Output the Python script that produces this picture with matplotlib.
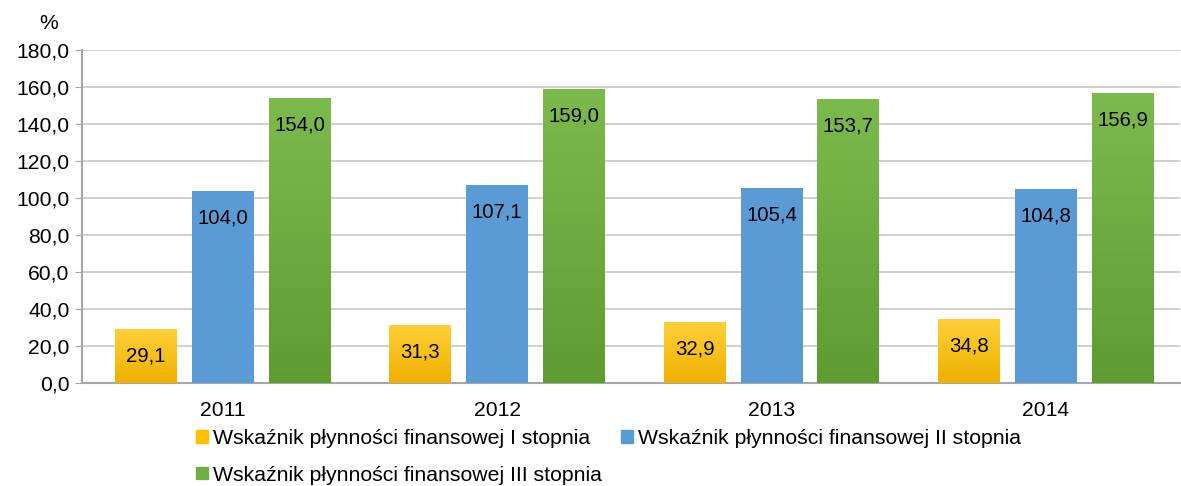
import matplotlib
matplotlib.use("Agg")
import matplotlib.pyplot as plt
import numpy as np
from matplotlib.colors import LinearSegmentedColormap
from matplotlib.patches import Rectangle

years = ["2011", "2012", "2013", "2014"]
series_names = [
    "Wskaźnik płynności finansowej I stopnia",
    "Wskaźnik płynności finansowej II stopnia",
    "Wskaźnik płynności finansowej III stopnia",
]
stopien_I = [29.1, 31.3, 32.9, 34.8]
stopien_II = [104.0, 107.1, 105.4, 104.8]
stopien_III = [154.0, 159.0, 153.7, 156.9]
series = [stopien_I, stopien_II, stopien_III]

# top colour, bottom colour, legend colour
grad = [("#FFCF3A", "#EFB100", "#FFC000"),
        ("#5B9BD5", "#5B9BD5", "#5B9BD5"),
        ("#7DBA4E", "#5E9C32", "#70AD47")]

plt.rcParams['font.family'] = ['Liberation Sans', 'DejaVu Sans']

fig = plt.figure(figsize=(11.81, 4.86), dpi=100)
ax = fig.add_axes([0.0694, 0.212, 0.93, 0.685])

x = np.arange(len(years))
width = 0.226
offsets = [-0.28, 0.0, 0.28]

handles = []
for s, vals, off, (ctop, cbot, cleg) in zip(range(3), series, offsets, grad):
    bars = ax.bar(x + off, vals, width, color="none", edgecolor="none", zorder=3)
    cmap = LinearSegmentedColormap.from_list("g%d" % s, [cbot, ctop])
    for b, v in zip(bars, vals):
        x0 = b.get_x()
        x1 = x0 + b.get_width()
        img = ax.imshow(np.linspace(0, 1, 100).reshape(-1, 1), extent=[x0, x1, 0, v],
                        origin="lower", aspect="auto", cmap=cmap, zorder=3)
        img.set_clip_path(b)
        ax.annotate(f"{v:.1f}".replace(".", ","), (b.get_x() + b.get_width() / 2, v),
                    xytext=(0, -27), textcoords="offset pixels", ha="center", va="center",
                    fontsize=14.7, color="black", zorder=5)
    handles.append(Rectangle((0, 0), 1, 1, color=cleg))

ax.set_xlim(-0.514, 3.49)
ax.set_ylim(0, 180)
ax.set_yticks(np.arange(0, 181, 20))
ax.set_yticklabels([f"{t:.1f}".replace(".", ",") for t in np.arange(0, 181, 20)], fontsize=15.2)
ax.set_xticks(x)
ax.set_xticklabels(years, fontsize=15.2)
ax.tick_params(axis="x", length=0, pad=13)
ax.tick_params(axis="y", length=5, color="#A6A6A6", pad=4)
ax.yaxis.grid(True, color="#C8C8C8", linewidth=1.2, zorder=0)
ax.set_axisbelow(True)
for sp in ["top", "right"]:
    ax.spines[sp].set_visible(False)
for sp in ["left", "bottom"]:
    ax.spines[sp].set_color("#A6A6A6")
    ax.spines[sp].set_linewidth(1.5)

fig.text(0.041, 0.952, "%", fontsize=15.2, ha="center", va="center")

order = [0, 2, 1]
leg = fig.legend([handles[i] for i in order], [series_names[i] for i in order],
                 ncol=2, loc="upper left", bbox_to_anchor=(0.166, 0.117),
                 frameon=False, fontsize=15.3, handlelength=0.55, handleheight=0.55,
                 handletextpad=0.25, columnspacing=0.9, labelspacing=0.82,
                 borderaxespad=0, borderpad=0)

fig.savefig("out.png", dpi=100)
